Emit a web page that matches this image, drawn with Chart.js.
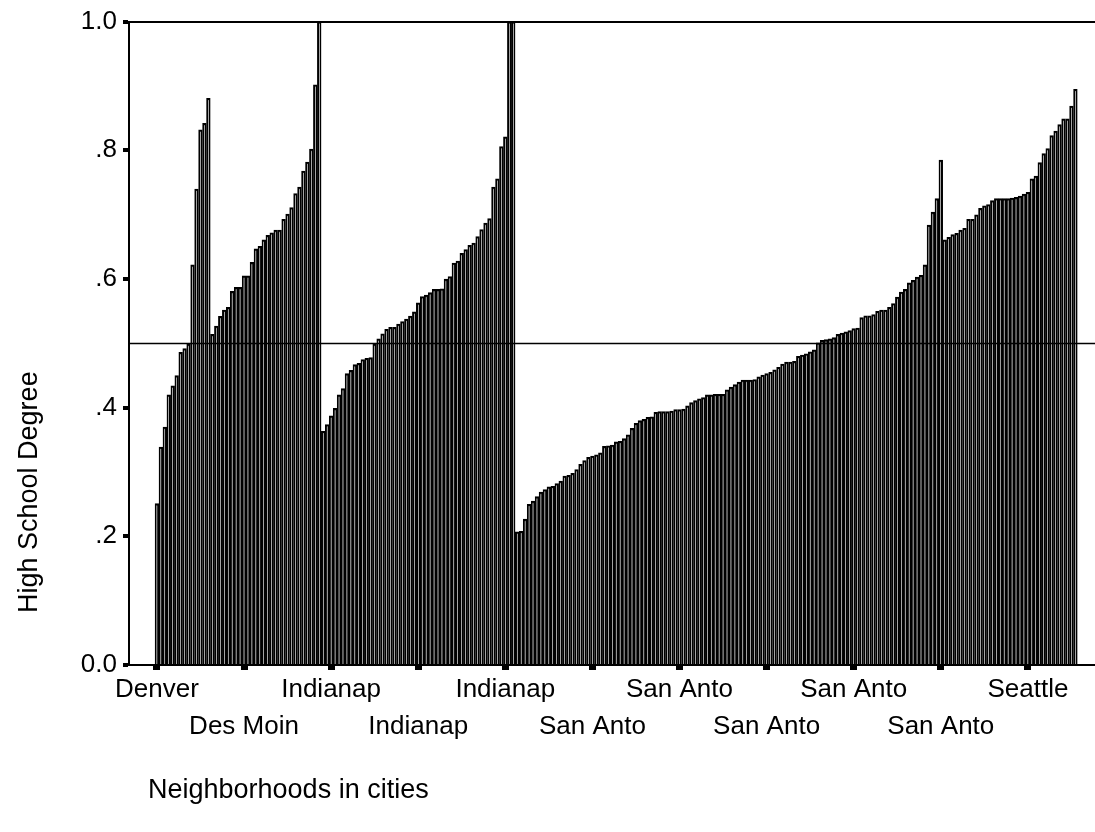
<!DOCTYPE html>
<html>
<head>
<meta charset="utf-8">
<script src="https://cdn.jsdelivr.net/npm/chart.js@4.4.0/dist/chart.umd.min.js"></script>
<style>
  html, body { margin: 0; padding: 0; background: #fff; }
  #wrap { width: 1095px; height: 832px; position: relative; }
</style>
</head>
<body>
<div id="wrap"><canvas id="chart" width="1095" height="832"></canvas></div>
<script>
// City names as printed on the category axis (truncated to 8 characters)
const cityNames = ['Denver', 'Des Moin', 'Indianap', 'San Anto', 'Seattle'];

// Share of adults with a high school degree, one value per neighborhood,
// sorted within each city
const denver = [0.251, 0.339, 0.370, 0.420, 0.434, 0.450, 0.486, 0.492, 0.499, 0.622, 0.740, 0.832, 0.842, 0.881];
const desMoines = [0.514, 0.527, 0.542, 0.552, 0.556, 0.581, 0.587, 0.587, 0.605, 0.605, 0.626, 0.647, 0.651, 0.661,
  0.668, 0.672, 0.676, 0.676, 0.693, 0.701, 0.711, 0.733, 0.743, 0.768, 0.782, 0.802, 0.902, 1.0];
const indianapolis = [0.3635, 0.374, 0.3875, 0.399, 0.420, 0.430, 0.453, 0.458, 0.467, 0.469, 0.475, 0.477, 0.478,
  0.499, 0.507, 0.515, 0.522, 0.525, 0.525, 0.530, 0.534, 0.538, 0.5425, 0.549, 0.563, 0.573, 0.575, 0.579, 0.584,
  0.584, 0.585, 0.600, 0.604, 0.625, 0.628, 0.640, 0.646, 0.6525, 0.656, 0.666, 0.677, 0.687, 0.694, 0.743, 0.756,
  0.806, 0.821, 1.0, 1.0];
const sanAntonio = [0.207, 0.208, 0.227, 0.250, 0.255, 0.262, 0.269, 0.273, 0.277, 0.278, 0.282, 0.286, 0.294, 0.295,
  0.298, 0.304, 0.312, 0.318, 0.323, 0.325, 0.327, 0.330, 0.340, 0.341, 0.342, 0.347, 0.348, 0.352, 0.358, 0.368,
  0.376, 0.380, 0.382, 0.385, 0.386, 0.393, 0.394, 0.394, 0.394, 0.395, 0.397, 0.397, 0.398, 0.403, 0.408, 0.411,
  0.414, 0.416, 0.420, 0.420, 0.421, 0.421, 0.421, 0.428, 0.432, 0.436, 0.440, 0.443, 0.443, 0.443, 0.444, 0.448,
  0.451, 0.453, 0.455, 0.459, 0.463, 0.468, 0.471, 0.471, 0.472, 0.480, 0.482, 0.484, 0.487, 0.490, 0.501, 0.505,
  0.506, 0.507, 0.509, 0.514, 0.516, 0.518, 0.520, 0.523, 0.524, 0.540, 0.543, 0.543, 0.545, 0.550, 0.552, 0.552,
  0.556, 0.562, 0.572, 0.580, 0.584, 0.594, 0.598, 0.603, 0.606, 0.622, 0.684, 0.704, 0.725, 0.785];
const seattle = [0.661, 0.665, 0.669, 0.671, 0.676, 0.679, 0.693, 0.693, 0.700, 0.710, 0.714, 0.716, 0.722, 0.725,
  0.725, 0.725, 0.725, 0.726, 0.727, 0.729, 0.732, 0.735, 0.756, 0.760, 0.781, 0.795, 0.803, 0.823, 0.830, 0.840,
  0.849, 0.849, 0.869, 0.895];

// Value axis ticks and the horizontal reference level
const yTickValues = [0, 0.2, 0.4, 0.6, 0.8, 1.0];
const yTickLabels = ['0.0', '.2', '.4', '.6', '.8', '1.0'];
const referenceLevel = 0.5;
// A category label is printed for every n-th neighborhood
const labelEvery = 22;

const yTitle = 'High School Degree';
const xTitle = 'Neighborhoods in cities';

// ---- assemble the series ----
const cityGroups = [denver, desMoines, indianapolis, sanAntonio, seattle];
const values = [];
const cityOfBar = [];
cityGroups.forEach((group, gi) => {
  group.forEach(v => { values.push(v); cityOfBar.push(cityNames[gi]); });
});
const points = values.map((v, i) => ({ x: i, y: v }));
const barCount = values.length;
const xTickValues = [];
for (let i = 0; i < barCount; i += labelEvery) xTickValues.push(i);

const FONT = "'Liberation Sans', Arial, Helvetica, sans-serif";

// Reference line at 0.5, drawn above the bars
const referenceLine = {
  id: 'referenceLine',
  afterDatasetsDraw(chart) {
    const { ctx, chartArea, scales } = chart;
    const y = Math.round(scales.y.getPixelForValue(referenceLevel)) + 0.5;
    ctx.save();
    ctx.strokeStyle = '#000';
    ctx.lineWidth = 1.6;
    ctx.beginPath();
    ctx.moveTo(chartArea.left, y);
    ctx.lineTo(chartArea.right, y);
    ctx.stroke();
    ctx.restore();
  }
};

// Axis titles: set toward the start of each axis
const axisTitles = {
  id: 'axisTitles',
  afterDraw(chart) {
    const { ctx, chartArea } = chart;
    ctx.save();
    ctx.fillStyle = '#000';
    ctx.font = '27px ' + FONT;
    ctx.textBaseline = 'middle';
    ctx.textAlign = 'left';
    ctx.fillText(xTitle, chartArea.left + 19, 791);
    ctx.translate(30, chartArea.bottom - 52);
    ctx.rotate(-Math.PI / 2);
    ctx.fillText(yTitle, 0, 0);
    ctx.restore();
  }
};

new Chart(document.getElementById('chart'), {
  type: 'bar',
  data: {
    datasets: [{
      data: points,
      backgroundColor: '#ffffff',
      borderColor: '#000000',
      borderWidth: 2,
      inflateAmount: 0.2,
      barPercentage: 1,
      categoryPercentage: 1
    }]
  },
  options: {
    responsive: false,
    animation: false,
    events: [],
    layout: { padding: { top: 18, right: 0, bottom: 0, left: 0 } },
    plugins: { legend: { display: false }, tooltip: { enabled: false }, title: { display: false } },
    scales: {
      x: {
        type: 'linear',
        bounds: 'data',
        offset: false,
        min: -7.05,
        max: barCount + 3.95,
        afterBuildTicks: s => { s.ticks = xTickValues.map(v => ({ value: v })); },
        afterFit: s => { s.height = 167; s.paddingLeft = 0; s.paddingRight = 0; },
        ticks: {
          autoSkip: false,
          maxRotation: 0,
          minRotation: 0,
          padding: 1.5,
          color: '#000',
          font: { family: FONT, size: 26, lineHeight: 1.42 },
          callback: (v, i) => (i % 2 ? ['', cityOfBar[v]] : cityOfBar[v])
        },
        grid: {
          offset: false,
          drawOnChartArea: false,
          drawTicks: true,
          tickLength: 5,
          tickWidth: 7,
          tickColor: '#000'
        },
        border: { display: true, color: '#000', width: 2 }
      },
      y: {
        type: 'linear',
        min: 0,
        max: 1,
        afterBuildTicks: s => { s.ticks = yTickValues.map(v => ({ value: v })); },
        afterFit: s => { s.width = 129; },
        ticks: {
          padding: 6,
          color: '#000',
          font: { family: FONT, size: 26 },
          callback: (v, i) => yTickLabels[i]
        },
        grid: {
          color: ctx => (ctx.tick && ctx.tick.value === 1 ? '#000' : 'rgba(0,0,0,0)'),
          lineWidth: 2,
          drawTicks: true,
          tickLength: 6,
          tickWidth: 4,
          tickColor: '#000'
        },
        border: { display: true, color: '#000', width: 2 }
      }
    }
  },
  plugins: [referenceLine, axisTitles]
});
</script>
</body>
</html>
